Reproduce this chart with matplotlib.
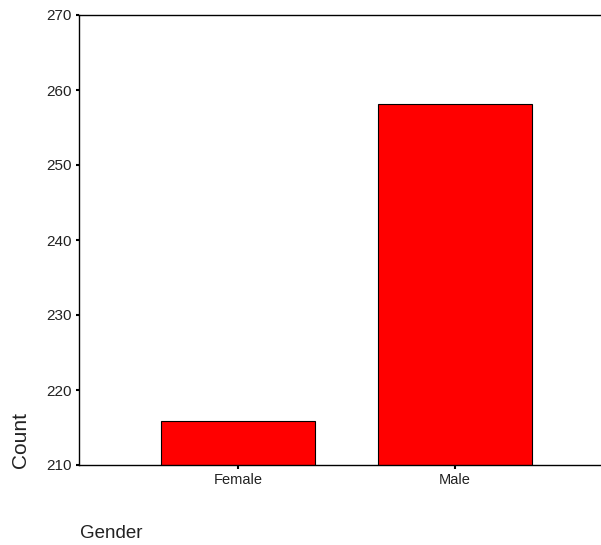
import matplotlib
matplotlib.use("Agg")
import matplotlib.pyplot as plt

# data
categories = ["Female", "Male"]
counts = [215.9, 258.2]
y_ticks = [210, 220, 230, 240, 250, 260, 270]

plt.rcParams["font.family"] = ["Liberation Sans", "DejaVu Sans"]

fig = plt.figure(figsize=(6.01, 5.45), dpi=100)
ax = fig.add_axes([79 / 601, 1 - 465 / 545, 1 - 79 / 601, (465 - 15) / 545])

x = list(range(len(categories)))
ax.bar(x, counts, width=0.714, color="#ff0000",
       edgecolor="black", linewidth=0.8, zorder=2)

ax.set_ylim(210, 270)
ax.set_xlim(-0.733, 1.673)
ax.set_yticks(y_ticks)
ax.set_yticklabels([str(t) for t in y_ticks], fontsize=11, color="#222222")
ax.set_xticks(x)
ax.set_xticklabels(categories, fontsize=10.5, color="#222222")

ax.tick_params(axis="y", length=2.5, width=1.5, pad=3, direction="out")
ax.tick_params(axis="x", length=3, width=1.5, pad=3, direction="out")

for side in ("left", "top", "bottom"):
    ax.spines[side].set_linewidth(1.0)
    ax.spines[side].set_color("black")
ax.spines["right"].set_visible(False)

fig.text(21 / 601, 1 - 440 / 545, "Count", rotation=90, fontsize=15,
         ha="center", va="center", color="#222222")
fig.text(80 / 601, 1 - 534 / 545, "Gender", fontsize=13.5,
         ha="left", va="center", color="#222222")

fig.savefig("out.png", dpi=100)
